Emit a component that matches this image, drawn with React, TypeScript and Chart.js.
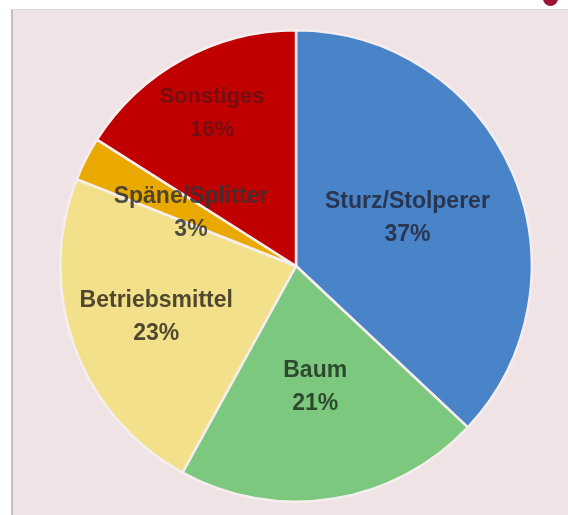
import React, { useEffect, useRef } from "react";
import { Chart, registerables } from "chart.js";

Chart.register(...registerables);

const categories = ["Sturz/Stolperer", "Baum", "Betriebsmittel", "Späne/Splitter", "Sonstiges"];
const values = [37, 21, 23, 3, 16];
const sliceColors = ["#4a84c8", "#7dc87f", "#f2e08a", "#e9a900", "#c00000"];
const labelColors = ["rgba(35,40,60,0.85)", "rgba(30,50,30,0.85)", "rgba(50,45,30,0.85)", "rgba(50,50,50,0.85)", "rgba(90,20,25,0.75)"];
const labelRadius = [0.515, 0.52, 0.63, 0.5, 0.74];

const labelPlugin = {
  id: "sliceLabels",
  afterDatasetsDraw(chart: any) {
    const ctx = chart.ctx;
    const meta = chart.getDatasetMeta(0);
    ctx.save();
    ctx.textAlign = "center";
    ctx.textBaseline = "middle";
    meta.data.forEach((arc: any, i: number) => {
      const p = arc.getProps(["x", "y", "startAngle", "endAngle", "outerRadius"], true);
      const mid = (p.startAngle + p.endAngle) / 2;
      const r = p.outerRadius * labelRadius[i];
      const x = p.x + Math.cos(mid) * r;
      const y = p.y + Math.sin(mid) * r;
      ctx.fillStyle = labelColors[i];
      ctx.font = i === 4 ? "bold 22px 'Liberation Sans', Arial, sans-serif" : "bold 23px 'Liberation Sans', Arial, sans-serif";
      ctx.fillText(categories[i], x, y - 16);
      ctx.fillText(values[i] + "%", x, y + 17);
    });
    ctx.restore();
  },
};

export default function App() {
  const ref = useRef<HTMLCanvasElement>(null);
  useEffect(() => {
    if (!ref.current) return;
    const chart = new Chart(ref.current, {
      type: "pie",
      data: {
        labels: categories,
        datasets: [
          {
            data: values,
            backgroundColor: sliceColors,
            borderColor: "#f6eeee",
            borderWidth: 2.5,
          },
        ],
      },
      options: {
        animation: false,
        responsive: false,
        maintainAspectRatio: false,
        layout: { padding: 0 },
        plugins: {
          legend: { display: false },
          tooltip: { enabled: false },
        },
      },
      plugins: [labelPlugin],
    });
    return () => chart.destroy();
  }, []);

  return (
    <div style={{ position: "fixed", left: 0, top: 0, width: 568, height: 515, background: "#ffffff", overflow: "hidden" }}>
      <div
        style={{
          position: "absolute",
          left: 543,
          top: -9,
          width: 15,
          height: 15,
          borderRadius: "50%",
          background: "#9b1232",
        }}
      />
      <div
        style={{
          position: "absolute",
          left: 11,
          top: 9,
          right: 0,
          bottom: 0,
          background: "#efe3e5",
          borderLeft: "2px solid #c4bcbd",
          borderTop: "1px solid #dcd6d6",
        }}
      />
      <canvas
        ref={ref}
        width={474}
        height={474}
        style={{ position: "absolute", left: 59, top: 29, width: 474, height: 474 }}
      />
    </div>
  );
}
